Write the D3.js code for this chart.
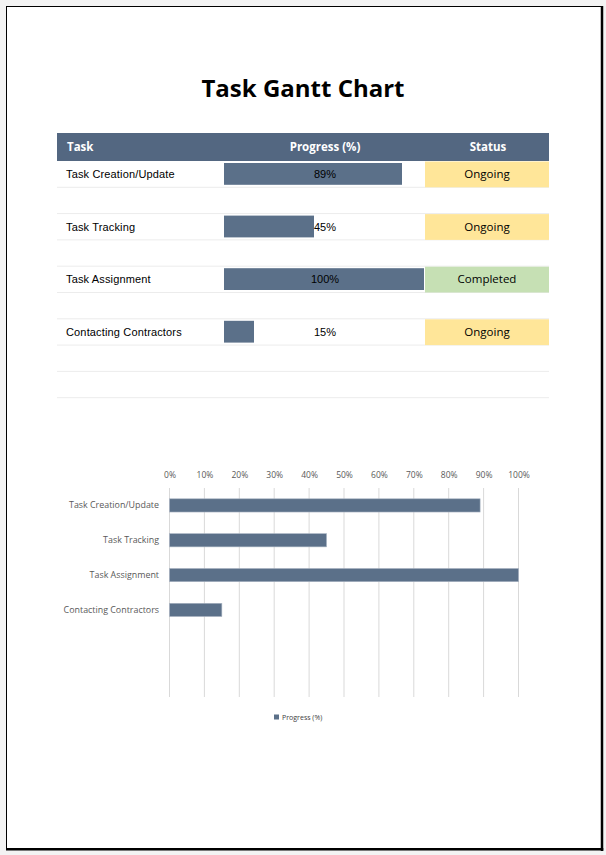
<!DOCTYPE html>
<html><head><meta charset="utf-8">
<script src="https://cdn.jsdelivr.net/npm/d3@7"></script>
<style>html,body{margin:0;padding:0;background:#f3f3f3;}svg{display:block;}</style>
</head><body>
<script>
const tasks = ["Task Creation/Update", "Task Tracking", "Task Assignment", "Contacting Contractors"];
const progress = [0.89, 0.45, 1.00, 0.15];
const statuses = ["Ongoing", "Ongoing", "Completed", "Ongoing"];
const chartCategories = ["Task Creation/Update", "Task Tracking", "Task Assignment", "Contacting Contractors", "", " "];
const tickValues = [0, 0.1, 0.2, 0.3, 0.4, 0.5, 0.6, 0.7, 0.8, 0.9, 1.0];
const headers = ["Task", "Progress (%)", "Status"];
const statusColors = {"Ongoing": "#ffe699", "Completed": "#c6e0b4"};

const W = 606, H = 855;
const svg = d3.select("body").append("svg").attr("width", W).attr("height", H);

// page
svg.append("rect").attr("x", 6).attr("y", 6).attr("width", 597).attr("height", 843).attr("fill", "#fff");
svg.append("rect").attr("x", 6.5).attr("y", 6.5).attr("width", 595.5).attr("height", 842).attr("fill", "none").attr("stroke", "#000").attr("stroke-width", 1);
svg.append("line").attr("x1", 602).attr("x2", 602).attr("y1", 6).attr("y2", 851).attr("stroke", "#000").attr("stroke-width", 2.5);
svg.append("line").attr("x1", 6).attr("x2", 603.3).attr("y1", 849.3).attr("y2", 849.3).attr("stroke", "#000").attr("stroke-width", 2.5);

// title
svg.append("text").attr("x", 303).attr("y", 97).attr("text-anchor", "middle")
  .attr("font-family", "Open Sans").attr("font-weight", "bold").attr("font-size", 24).attr("fill", "#000")
  .text("Task Gantt Chart");

// table
const tL = 57, tR = 549, hTop = 133, hBot = 161;
const rowH = 26.3;
const pX = d3.scaleLinear().domain([0, 1]).range([224, 424]);
const sL = 425, sR = 549;

svg.append("rect").attr("x", tL).attr("y", hTop).attr("width", tR - tL).attr("height", hBot - hTop).attr("fill", "#536781");
const hx = [67, 325, 488], ha = ["start", "middle", "middle"];
headers.forEach((h, i) => {
  svg.append("text").attr("x", hx[i]).attr("y", 151).attr("text-anchor", ha[i])
    .attr("font-family", "Open Sans").attr("font-weight", "bold").attr("font-size", 11.5).attr("fill", "#fff").text(h);
});

// row separators
const nRows = 9;
for (let r = 0; r < nRows; r++) {
  const yb = hBot + (r + 1) * rowH;
  svg.append("line").attr("x1", tL).attr("x2", tR).attr("y1", yb).attr("y2", yb)
    .attr("stroke", "#ececec").attr("stroke-width", 1);
}

tasks.forEach((t, i) => {
  const y0 = hBot + i * 2 * rowH;
  const yc = y0 + rowH / 2;
  svg.append("rect").attr("x", sL).attr("y", y0 + 0.5).attr("width", sR - sL).attr("height", rowH - 0.5)
    .attr("fill", statusColors[statuses[i]]);
  svg.append("rect").attr("x", pX(0)).attr("y", y0 + 2).attr("width", pX(progress[i]) - pX(0)).attr("height", rowH - 4.5)
    .attr("fill", "#5b7089");
  svg.append("text").attr("x", 66).attr("y", yc + 4).attr("font-family", "Liberation Sans").attr("font-size", 11)
    .attr("letter-spacing", 0.15).attr("fill", "#000").text(t);
  svg.append("text").attr("x", 325).attr("y", yc + 4).attr("text-anchor", "middle").attr("font-family", "Liberation Sans").attr("font-size", 11)
    .attr("fill", "#000").text(d3.format(".0%")(progress[i]));
  svg.append("text").attr("x", 487).attr("y", yc + 4).attr("text-anchor", "middle").attr("font-family", "Open Sans").attr("font-size", 11.5)
    .attr("fill", "#000").text(statuses[i]);
});

// bar chart
const x = d3.scaleLinear().domain([0, 1]).range([169.5, 518.5]);
const y = d3.scaleBand().domain(chartCategories).range([488, 697]).paddingInner(0.62).paddingOuter(0.31);
const g = svg.append("g");
const gTop = 488, gBot = 697;
g.selectAll("line.grid").data(tickValues).enter().append("line")
  .attr("x1", d => x(d)).attr("x2", d => x(d)).attr("y1", gTop).attr("y2", gBot)
  .attr("stroke", "#d9d9d9").attr("stroke-width", 1);

const xAxis = d3.axisTop(x).tickValues(tickValues).tickFormat(d3.format(".0%")).tickSize(0).tickPadding(0);
const ax = svg.append("g").attr("transform", "translate(0,478)").call(xAxis);
ax.select(".domain").remove();
ax.selectAll("text").attr("font-family", "Open Sans").attr("font-size", 8.5).attr("fill", "#595959");

const yAxis = d3.axisLeft(y).tickSize(0).tickPadding(0);
const ay = svg.append("g").attr("transform", "translate(159,0)").call(yAxis);
ay.select(".domain").remove();
ay.selectAll("text").attr("font-family", "Open Sans").attr("font-size", 8.9).attr("fill", "#595959");

g.selectAll("rect.bar").data(tasks).enter().append("rect")
  .attr("x", x(0)).attr("y", (d) => y(d)).attr("width", (d, i) => x(progress[i]) - x(0)).attr("height", y.bandwidth())
  .attr("fill", "#5b7089").attr("stroke", "#aab5c3").attr("stroke-width", 0.6);

// legend
svg.append("rect").attr("x", 274).attr("y", 714.5).attr("width", 5).attr("height", 5).attr("fill", "#5b7089");
svg.append("text").attr("x", 282).attr("y", 720).attr("font-family", "Open Sans").attr("font-size", 7).attr("fill", "#404040")
  .text("Progress (%)");
</script>
</body></html>
